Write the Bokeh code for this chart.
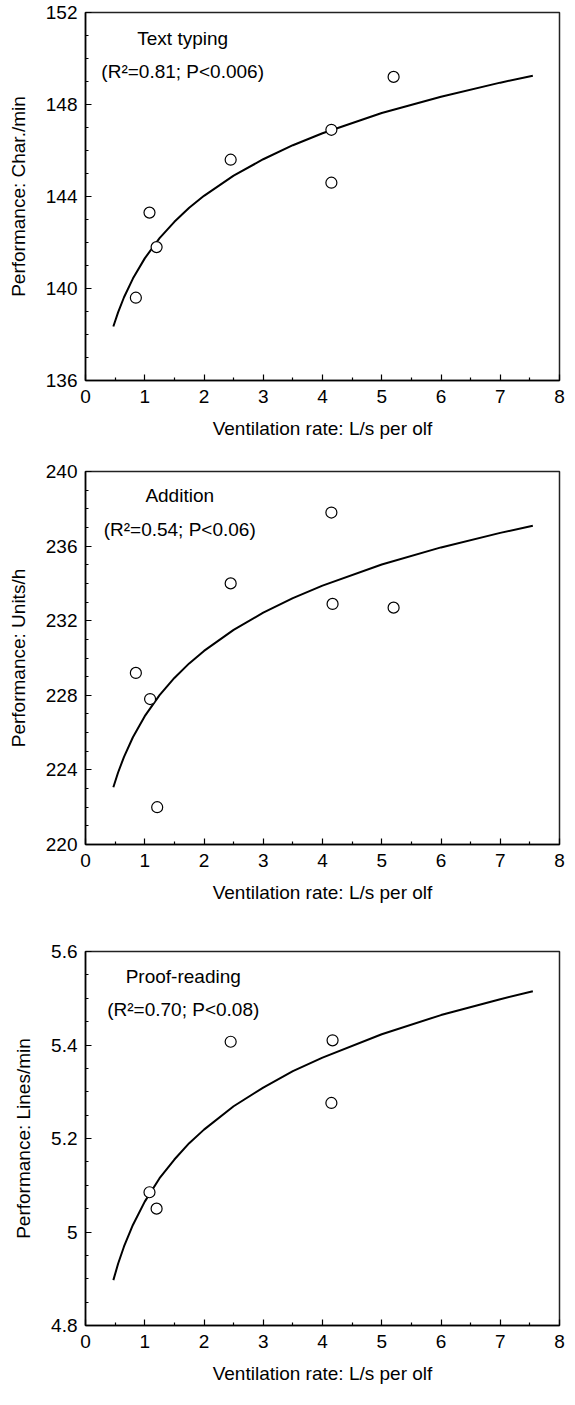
from bokeh.plotting import figure
from bokeh.models import Range1d, FixedTicker, Label
from bokeh.layouts import column
from bokeh.embed import file_html
from bokeh.resources import INLINE

FONT = "Liberation Sans"
FS = "19px"

# ---- shared x axis ----
x_ticks = [0, 1, 2, 3, 4, 5, 6, 7, 8]
x_minor = [0.5, 1.5, 2.5, 3.5, 4.5, 5.5, 6.5, 7.5]
x_title = "Ventilation rate: L/s per olf"

# curve sample positions
curve_x = [0.47, 0.55, 0.65, 0.8, 1.0, 1.25, 1.5, 1.75, 2.0, 2.5, 3.0, 3.5, 4.0, 5.0, 6.0, 7.0, 7.55]

# ---- Text typing ----
typing_x = [0.85, 1.08, 1.20, 2.45, 4.15, 4.15, 5.20]
typing_y = [139.6, 143.3, 141.8, 145.6, 146.9, 144.6, 149.2]
typing_curve = [138.35, 138.96, 139.62, 140.43, 141.31, 142.19, 142.90, 143.51, 144.03,
                144.91, 145.62, 146.23, 146.75, 147.63, 148.34, 148.95, 149.25]
typing_ticks = [136, 140, 144, 148, 152]
typing_minor = [137, 138, 139, 141, 142, 143, 145, 146, 147, 149, 150, 151]
typing_labels = ["136", "140", "144", "148", "152"]

# ---- Addition ----
add_x = [0.85, 1.09, 1.21, 2.45, 4.15, 4.17, 5.20]
add_y = [229.2, 227.8, 222.0, 234.0, 237.8, 232.9, 232.7]
add_curve = [223.07, 223.86, 224.70, 225.75, 226.88, 228.01, 228.93, 229.71, 230.38,
             231.51, 232.43, 233.21, 233.88, 235.01, 235.93, 236.71, 237.09]
add_ticks = [220, 224, 228, 232, 236, 240]
add_minor = [221, 222, 223, 225, 226, 227, 229, 230, 231, 233, 234, 235, 237, 238, 239]
add_labels = ["220", "224", "228", "232", "236", "240"]

# ---- Proof-reading ----
proof_x = [1.08, 1.20, 2.45, 4.15, 4.17]
proof_y = [5.085, 5.050, 5.407, 5.276, 5.410]
proof_curve = [4.897, 4.932, 4.969, 5.015, 5.065, 5.115, 5.155, 5.190, 5.219,
               5.269, 5.309, 5.344, 5.373, 5.423, 5.464, 5.498, 5.515]
proof_ticks = [4.8, 5.0, 5.2, 5.4, 5.6]
proof_minor = [4.85, 4.9, 4.95, 5.05, 5.1, 5.15, 5.25, 5.3, 5.35, 5.45, 5.5, 5.55]
proof_labels = ["4.8", "5", "5.2", "5.4", "5.6"]


def make_panel(px, py, cy, yticks, yminor, ylabels, ytitle, title1, title2,
               label_x, label_y1, label_y2, height, b_left, b_top, b_bottom):
    p = figure(width=567, height=height, output_backend="svg", toolbar_location=None,
               x_range=Range1d(0, 8), y_range=Range1d(yticks[0], yticks[-1]),
               min_border_left=b_left, min_border_right=8,
               min_border_top=b_top, min_border_bottom=b_bottom)
    p.background_fill_color = "white"
    p.border_fill_color = "white"
    p.outline_line_color = "#222222"
    p.outline_line_width = 1.5
    p.xgrid.visible = False
    p.ygrid.visible = False

    p.xaxis.ticker = FixedTicker(ticks=x_ticks, minor_ticks=x_minor)
    p.yaxis.ticker = FixedTicker(ticks=yticks, minor_ticks=yminor)
    p.yaxis.major_label_overrides = {t: l for t, l in zip(yticks, ylabels)}
    p.xaxis.major_label_overrides = {t: str(t) for t in x_ticks}

    for ax in (p.xaxis[0], p.yaxis[0]):
        ax.axis_line_color = "black"
        ax.axis_line_width = 1.5
        ax.major_tick_in = 6
        ax.major_tick_out = 0
        ax.minor_tick_in = 3
        ax.minor_tick_out = 0
        ax.major_tick_line_color = "black"
        ax.minor_tick_line_color = "black"
        ax.major_tick_line_width = 1.2
        ax.minor_tick_line_width = 1.2
        ax.major_label_text_font = FONT
        ax.major_label_text_font_size = FS
        ax.major_label_text_color = "black"
        ax.axis_label_text_font = FONT
        ax.axis_label_text_font_size = FS
        ax.axis_label_text_font_style = "normal"
        ax.axis_label_text_color = "black"

    p.xaxis.axis_label = x_title
    p.yaxis.axis_label = ytitle
    p.xaxis.major_label_standoff = 9
    p.xaxis.axis_label_standoff = 12
    p.yaxis.major_label_standoff = 8
    p.yaxis.axis_label_standoff = 14

    p.line(curve_x, cy, line_color="black", line_width=2)
    p.scatter(px, py, marker="circle", size=11, fill_color="white",
              line_color="black", line_width=1.2)

    for txt, yy in ((title1, label_y1), (title2, label_y2)):
        p.add_layout(Label(x=label_x, y=yy, text=txt, text_align="center",
                           text_baseline="middle", text_font=FONT,
                           text_font_size=FS, text_color="black"))
    return p


p1 = make_panel(typing_x, typing_y, typing_curve, typing_ticks, typing_minor, typing_labels,
                "Performance: Char./min", "Text typing", "(R\u00b2=0.81; P<0.006)",
                1.64, 150.85, 149.45, height=454, b_left=82, b_top=12, b_bottom=74)
p2 = make_panel(add_x, add_y, add_curve, add_ticks, add_minor, add_labels,
                "Performance: Units/h", "Addition", "(R\u00b2=0.54; P<0.06)",
                1.59, 238.71, 236.89, height=464, b_left=85, b_top=17, b_bottom=74)
p3 = make_panel(proof_x, proof_y, proof_curve, proof_ticks, proof_minor, proof_labels,
                "Performance: Lines/min", "Proof-reading", "(R\u00b2=0.70; P<0.08)",
                1.65, 5.5465, 5.476, height=471, b_left=80, b_top=33, b_bottom=64)

layout = column(p1, p2, p3, spacing=0)
open("out.html", "w").write(file_html(layout, INLINE))
